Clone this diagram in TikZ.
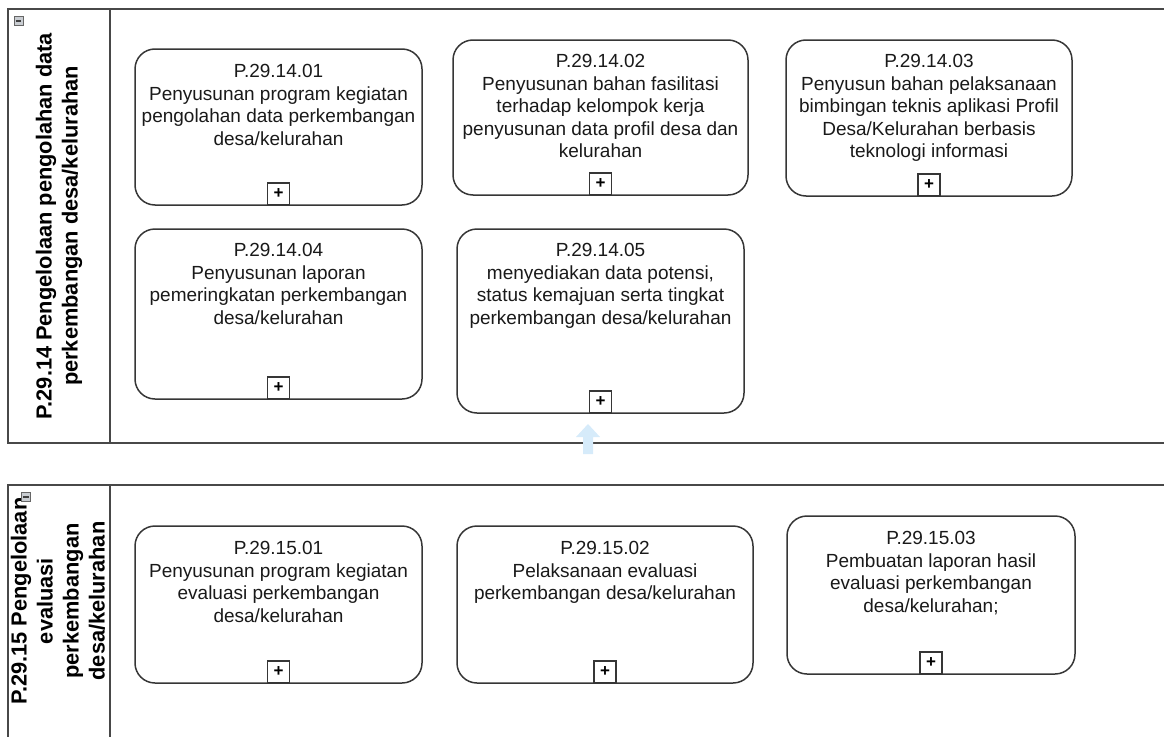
\documentclass[tikz,border=0pt]{standalone}
\usepackage{fontspec}
\setmainfont{Liberation Sans}
\usetikzlibrary{positioning}

\definecolor{garis}{HTML}{363636}
\definecolor{bahan}{HTML}{484848}
\definecolor{ikon}{HTML}{C9CDD2}
\definecolor{panah}{HTML}{D6EBFA}

\begin{document}
\begin{tikzpicture}[x=1pt, y=-1pt,
    kotak/.style={draw=garis, line width=1.5pt, rounded corners=20pt, inner sep=0pt},
    teks/.style={align=center, inner sep=0pt, text=black!90, font=\fontsize{19}{22.5}\selectfont},
    plus/.style={draw=garis, line width=1.5pt, fill=white, minimum size=22pt, inner sep=0pt, font=\bfseries\fontsize{17}{17}\selectfont},
    kepala/.style={rotate=90, align=center, inner sep=0pt, font=\bfseries\fontsize{21.8}{26}\selectfont},
    minus/.style={draw=gray!80!black, fill=ikon, line width=0.6pt, minimum size=9pt, inner sep=0pt}]
\useasboundingbox (0,0) rectangle (1164,736);
\clip (0,0) rectangle (1164,736);
    % obere Bahn:
    \draw[draw=bahan, line width=1.8pt] (8,9) rectangle (1190,443); % Rahmen
    \draw[draw=bahan, line width=1.8pt] (110,9) -- (110,443); % Kopfspalte
    % untere Bahn:
    \draw[draw=bahan, line width=1.8pt] (1190,485) -- (8,485) -- (8,760); % Rahmen
    \draw[draw=bahan, line width=1.8pt] (110,485) -- (110,760); % Kopfspalte

    % Bahnkoepfe
    \node[kepala] (h14) at (59,226) {P.29.14 Pengelolaan pengolahan data\\perkembangan desa/kelurahan};
    \node[kepala] (h15) at (58,601) {P.29.15 Pengelolaan\hspace{16pt}\\evaluasi\\perkembangan\\desa/kelurahan};
    \node[minus] (m14) at (18.5,21) {};
    \node[minus] (m15) at (26,497) {};
    \draw[line width=1.3pt, black!75] ([xshift=2pt]m14.west) -- ([xshift=-2pt]m14.east);
    \draw[line width=1.3pt, black!75] ([xshift=2pt]m15.west) -- ([xshift=-2pt]m15.east);

    % Kaesten P.29.14
    \node[kotak, minimum width=287pt, minimum height=156pt] (b1) at (278.5,127) {};
    \node[kotak, minimum width=295pt, minimum height=155pt] (b2) at (600.5,117.5) {};
    \node[kotak, minimum width=286pt, minimum height=156pt] (b3) at (929,118) {};
    \node[kotak, minimum width=287pt, minimum height=170pt] (b4) at (278.5,314) {};
    \node[kotak, minimum width=287pt, minimum height=184pt] (b5) at (600.5,321) {};
    % Kaesten P.29.15
    \node[kotak, minimum width=287pt, minimum height=157pt] (b6) at (278.5,604.5) {};
    \node[kotak, minimum width=296pt, minimum height=157pt] (b7) at (605,604.5) {};
    \node[kotak, minimum width=288pt, minimum height=158pt] (b8) at (931,595) {};

    % Beschriftung
    \node[teks, below=16pt of b1.north] (t1) {P.29.14.01\\Penyusunan program kegiatan\\pengolahan data perkembangan\\desa/kelurahan};
    \node[teks, below=15pt of b2.north] (t2) {P.29.14.02\\Penyusunan bahan fasilitasi\\terhadap kelompok kerja\\penyusunan data profil desa dan\\kelurahan};
    \node[teks, below=15pt of b3.north] (t3) {P.29.14.03\\Penyusun bahan pelaksanaan\\bimbingan teknis aplikasi Profil\\Desa/Kelurahan berbasis\\teknologi informasi};
    \node[teks, below=15pt of b4.north] (t4) {P.29.14.04\\Penyusunan laporan\\pemeringkatan perkembangan\\desa/kelurahan};
    \node[teks, below=15pt of b5.north] (t5) {P.29.14.05\\menyediakan data potensi,\\status kemajuan serta tingkat\\perkembangan desa/kelurahan};
    \node[teks, below=16pt of b6.north] (t6) {P.29.15.01\\Penyusunan program kegiatan\\evaluasi perkembangan\\desa/kelurahan};
    \node[teks, below=16pt of b7.north] (t7) {P.29.15.02\\Pelaksanaan evaluasi\\perkembangan desa/kelurahan};
    \node[teks, below=16pt of b8.north] (t8) {P.29.15.03\\Pembuatan laporan hasil\\evaluasi perkembangan\\desa/kelurahan;};

    % Plus-Zeichen
    \foreach \b in {b1,b2,b3,b4,b5,b6,b7,b8}
        \node[plus, above=0pt of \b.south] (p\b) {+};

    % blasser Pfeil unter P.29.14.05
    \fill[panah] (588,424) -- (600,437) -- (593,437) -- (593,454) -- (583,454) -- (583,437) -- (576,437) -- cycle;
\end{tikzpicture}
\end{document}
